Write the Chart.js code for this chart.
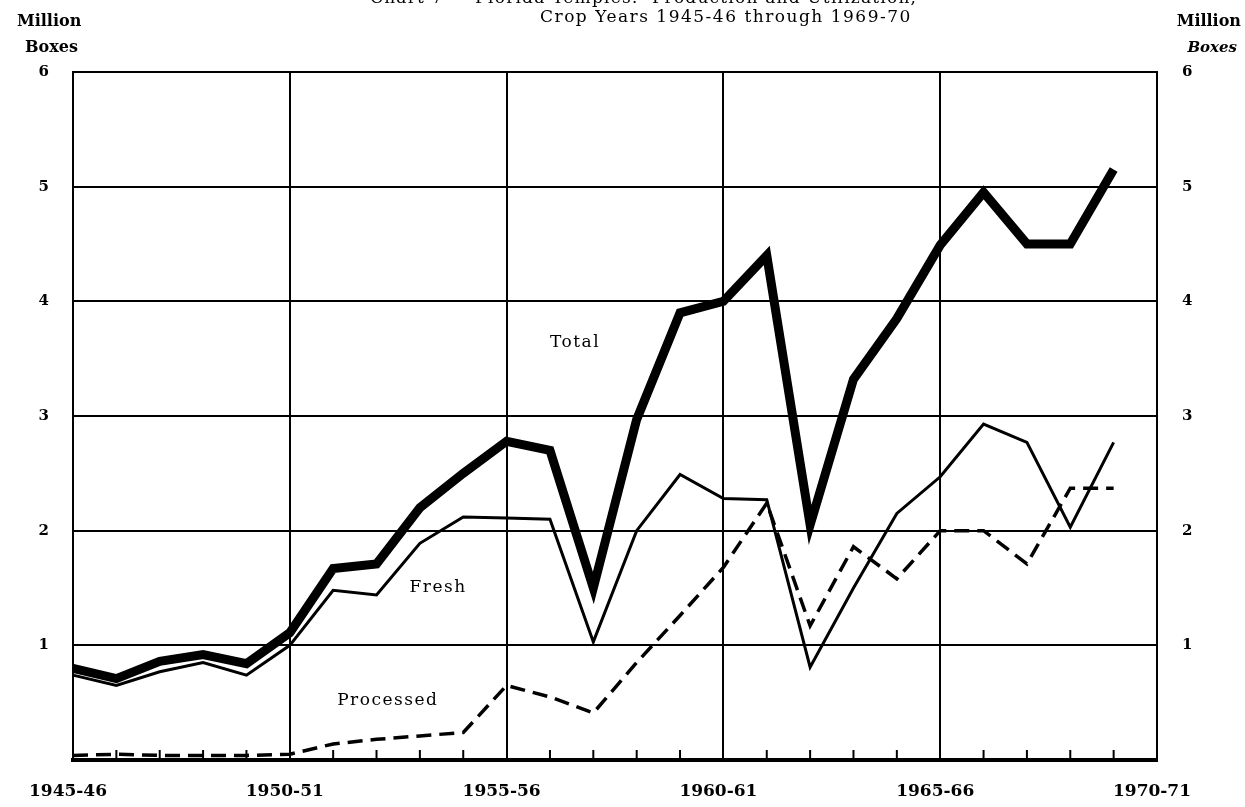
<!DOCTYPE html>
<html><head><meta charset="utf-8">
<script src="https://cdn.jsdelivr.net/npm/chart.js@4/dist/chart.umd.min.js"></script>
<style>html,body{margin:0;padding:0;background:#fff;}#wrap{width:1245px;height:807px;position:relative;}</style>
</head><body><div id="wrap"><canvas id="c" width="1245" height="807"></canvas></div>
<script>
const cropYears = ["1945-46","1946-47","1947-48","1948-49","1949-50","1950-51","1951-52","1952-53","1953-54","1954-55","1955-56","1956-57","1957-58","1958-59","1959-60","1960-61","1961-62","1962-63","1963-64","1964-65","1965-66","1966-67","1967-68","1968-69","1969-70","1970-71"];
const tickYears = ["1945-46","1950-51","1955-56","1960-61","1965-66","1970-71"];
const yTicks = [1,2,3,4,5,6];
const totalBoxes = [0.80,0.71,0.86,0.92,0.84,1.11,1.67,1.71,2.20,2.50,2.78,2.70,1.50,2.97,3.90,4.00,4.40,2.05,3.32,3.85,4.49,4.95,4.50,4.50,5.15];
const freshBoxes = [0.74,0.65,0.77,0.85,0.74,1.00,1.48,1.44,1.89,2.12,2.11,2.10,1.03,2.00,2.49,2.28,2.27,0.81,1.50,2.15,2.47,2.93,2.77,2.03,2.77];
const processedBoxes = [0.04,0.05,0.04,0.04,0.04,0.05,0.14,0.18,0.21,0.24,0.65,0.55,0.41,0.85,1.26,1.68,2.24,1.17,1.86,1.58,2.00,2.00,1.71,2.37,2.37];
const seriesNames = ["Total","Fresh","Processed"];
const titleLine1 = "Chart 7 \u2014 Florida Temples:  Production and Utilization,";
const titleLine2 = "Crop Years 1945-46 through 1969-70";
const axisTitle = ["Million","Boxes"];

const SERIF = '"DejaVu Serif", "Liberation Serif", serif';

const annot = {
  id: 'annot',
  beforeDatasetsDraw(chart) {
    const {ctx, chartArea: a, scales: {x}} = chart;
    ctx.save();
    ctx.strokeStyle = '#000';
    ctx.lineWidth = 2;
    cropYears.forEach((c, i) => {
      if (tickYears.includes(c)) return;
      const px = x.getPixelForValue(i);
      ctx.beginPath();
      ctx.moveTo(px, a.bottom);
      ctx.lineTo(px, a.bottom - 10);
      ctx.stroke();
    });
    ctx.restore();
  },
  afterDraw(chart) {
    const {ctx, scales: {x, y}} = chart;
    ctx.save();
    ctx.fillStyle = '#000';
    ctx.textBaseline = 'alphabetic';
    // titles
    ctx.font = '17px ' + SERIF;
    ctx.letterSpacing = '1.2px';
    ctx.textAlign = 'left';
    ctx.fillText(titleLine1, 370, 3);
    ctx.letterSpacing = '1.5px';
    ctx.fillText(titleLine2, 540, 22);
    ctx.letterSpacing = '0px';
    // axis titles
    ctx.font = 'bold 16px ' + SERIF;
    ctx.fillText(axisTitle[0], 17, 26);
    ctx.fillText(axisTitle[1], 25, 52);
    ctx.textAlign = 'right';
    ctx.fillText(axisTitle[0], 1241, 26);
    ctx.font = 'italic bold 15px ' + SERIF;
    ctx.fillText(axisTitle[1], 1237, 52);
    // series labels
    ctx.font = '17px ' + SERIF;
    ctx.letterSpacing = '1.5px';
    ctx.textAlign = 'center';
    ctx.textBaseline = 'middle';
    const anchors = [[11.58, 3.64], [8.42, 1.50], [7.26, 0.52]];
    seriesNames.forEach((n, k) => {
      ctx.fillText(n, x.getPixelForValue(anchors[k][0]), y.getPixelForValue(anchors[k][1]));
    });
    ctx.restore();
  }
};

const xFont = {family: SERIF, size: 17, weight: 'bold'};
const yFont = {family: SERIF, size: 15, weight: 'bold'};

new Chart(document.getElementById('c'), {
  type: 'line',
  data: {
    labels: cropYears,
    datasets: [
      {label: seriesNames[0], data: totalBoxes, borderColor: '#000', borderWidth: 9, pointRadius: 0, tension: 0, borderJoinStyle: 'miter', fill: false},
      {label: seriesNames[1], data: freshBoxes, borderColor: '#000', borderWidth: 3, pointRadius: 0, tension: 0, borderJoinStyle: 'miter', fill: false},
      {label: seriesNames[2], data: processedBoxes, borderColor: '#000', borderWidth: 3.5, borderDash: [15, 8], pointRadius: 0, tension: 0, fill: false}
    ]
  },
  options: {
    responsive: false,
    animation: false,
    devicePixelRatio: 1,
    layout: {padding: {top: 72, left: 0, right: 0, bottom: 0}},
    plugins: {legend: {display: false}, tooltip: {enabled: false}, title: {display: false}},
    scales: {
      x: {
        type: 'category',
        offset: false,
        grid: {
          color: c => (c.index % 5 === 0 ? '#000' : 'rgba(0,0,0,0)'),
          lineWidth: 2,
          drawTicks: false,
          offset: false
        },
        border: {display: true, width: 4, color: '#000'},
        ticks: {
          autoSkip: false,
          maxRotation: 0,
          minRotation: 0,
          padding: 21,
          labelOffset: -5,
          color: '#000',
          font: xFont,
          callback: (v, i) => (tickYears.includes(cropYears[i]) ? cropYears[i] : '')
        },
        afterFit: s => { s.height = 47; }
      },
      y: {
        position: 'left',
        min: 0, max: 6,
        grid: {
          color: c => (c.tick.value === 0 ? 'rgba(0,0,0,0)' : '#000'),
          lineWidth: 2,
          drawTicks: false
        },
        border: {display: true, width: 2, color: '#000'},
        ticks: {
          stepSize: 1, padding: 24, color: '#000', font: yFont,
          callback: v => (yTicks.includes(v) ? String(v) : '')
        },
        afterFit: s => { s.width = 73; }
      },
      y2: {
        position: 'right',
        min: 0, max: 6,
        grid: {display: false, drawTicks: false},
        border: {display: true, width: 2, color: '#000'},
        ticks: {
          stepSize: 1, padding: 25, color: '#000', font: yFont,
          callback: v => (yTicks.includes(v) ? String(v) : '')
        },
        afterFit: s => { s.width = 88; }
      }
    }
  },
  plugins: [annot]
});
</script>
</body></html>
